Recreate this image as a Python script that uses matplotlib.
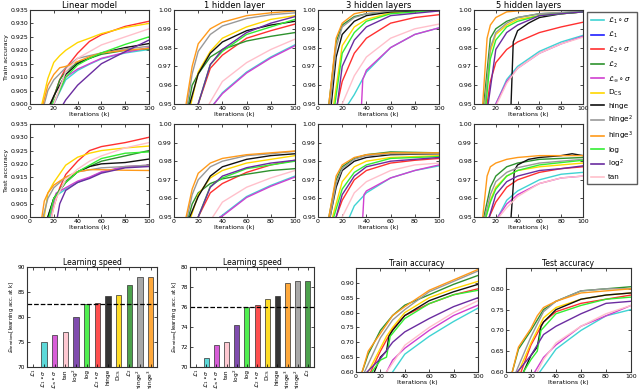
import matplotlib
matplotlib.use('Agg')
import matplotlib.pyplot as plt
from matplotlib.lines import Line2D

# series: key, legend label, colour
keys = ['L1s', 'L1', 'L2s', 'L2', 'Lis', 'DCS', 'hinge', 'hinge2', 'hinge3', 'log', 'log2', 'tan']
labels = [r'$\mathcal{L}_1\circ\sigma$', r'$\mathcal{L}_1$', r'$\mathcal{L}_2\circ\sigma$', r'$\mathcal{L}_2$',
          r'$\mathcal{L}_\infty\circ\sigma$', r'$\mathrm{D}_{\mathrm{CS}}$', 'hinge', r'hinge$^2$',
          r'hinge$^3$', 'log', r'log$^2$', 'tan']
colors = ['#3fd3d3', '#1f1fff', '#ff3030', '#2e922e', '#d040d0', '#ffd700', '#111111', '#999999',
          '#ff9a1a', '#33ee33', '#6a2ca0', '#ffc0cb']
col = dict(zip(keys, colors))
lab = dict(zip(keys, labels))

# accuracy curves, (iteration in k, accuracy)
lin_train = {
    'DCS': [(10, .900), (15, .9095), (20, .9155), (25, .918), (30, .920), (40, .9229), (50, .9245), (60, .9262), (80, .9285), (100, .930)],
    'L2s': [(17, .900), (20, .9026), (25, .909), (30, .9133), (40, .9189), (50, .9233), (60, .9258), (80, .9289), (100, .9308)],
    'hinge3': [(11, .900), (15, .907), (20, .911), (25, .9135), (30, .914), (40, .9158), (50, .9176), (60, .919), (80, .920), (100, .9207)],
    'tan': [(20, .900), (30, .912), (40, .917), (50, .9195), (60, .922), (80, .925), (100, .928)],
    'log': [(19, .900), (25, .905), (30, .910), (40, .9145), (50, .917), (60, .919), (80, .9222), (100, .925)],
    'hinge': [(17, .900), (20, .903), (30, .911), (40, .915), (50, .917), (60, .919), (80, .921), (100, .9225)],
    'hinge2': [(12, .900), (15, .905), (20, .909), (30, .9135), (40, .917), (50, .918), (60, .919), (80, .9205), (100, .9215)],
    'log2': [(28, .900), (30, .9015), (40, .907), (50, .911), (60, .915), (80, .9195), (100, .9238)],
    'L2': [(18, .900), (25, .909), (30, .912), (40, .9155), (60, .9185), (80, .920), (100, .9205)],
    'Lis': [(20, .900), (30, .910), (40, .913), (50, .915), (60, .917), (80, .9192), (100, .921)],
    'L1s': [(20, .900), (30, .909), (40, .9125), (50, .9148), (60, .9168), (80, .919), (100, .9203)],
}
lin_test = {
    'L2s': [(18, .900), (20, .904), (25, .911), (30, .916), (40, .921), (50, .925), (60, .9265), (80, .928), (100, .930)],
    'DCS': [(12, .900), (15, .909), (20, .913), (30, .9195), (40, .9225), (50, .924), (60, .925), (80, .926), (100, .9267)],
    'tan': [(18, .900), (22, .907), (30, .914), (40, .918), (50, .921), (60, .923), (80, .926), (100, .928)],
    'log': [(16, .900), (20, .907), (30, .913), (40, .917), (50, .9195), (60, .922), (80, .924), (100, .9245)],
    'L2': [(15, .900), (20, .907), (30, .9135), (40, .917), (60, .921), (80, .923), (100, .925)],
    'hinge': [(15, .900), (20, .907), (30, .913), (40, .917), (50, .919), (60, .920), (80, .9205), (100, .9218)],
    'hinge2': [(11, .900), (15, .907), (20, .911), (30, .915), (40, .917), (60, .9185), (80, .919), (100, .9195)],
    'hinge3': [(10, .900), (12, .906), (15, .909), (20, .912), (30, .915), (40, .917), (50, .9178), (60, .9178), (80, .9176), (100, .9175)],
    'log2': [(23, .900), (25, .905), (30, .910), (40, .913), (50, .9145), (60, .9165), (80, .9185), (100, .919)],
    'Lis': [(16, .900), (22, .909), (30, .911), (40, .9135), (50, .915), (60, .917), (80, .919), (100, .9195)],
    'L1s': [(17, .900), (22, .908), (30, .9105), (40, .913), (50, .9148), (60, .9168), (80, .9188), (100, .9192)],
}
hid1_train = {
    'hinge3': [(10, .95), (15, .970), (20, .982), (30, .990), (40, .9935), (60, .997), (80, .9985), (100, .9995)],
    'hinge2': [(11, .95), (15, .966), (20, .978), (30, .987), (40, .9915), (60, .9955), (80, .9975), (100, .9985)],
    'DCS': [(14, .95), (20, .967), (30, .978), (40, .985), (60, .991), (80, .995), (100, .997)],
    'hinge': [(13, .95), (20, .966), (30, .977), (40, .983), (60, .989), (80, .992), (100, .994)],
    'L2': [(12, .95), (15, .960), (20, .966), (30, .975), (40, .979), (60, .9835), (80, .986), (100, .988)],
    'log2': [(20, .95), (30, .971), (40, .979), (60, .988), (80, .993), (100, .9965)],
    'log': [(20, .95), (30, .971), (40, .978), (60, .987), (80, .991), (100, .995)],
    'L2s': [(20, .95), (30, .969), (40, .976), (60, .985), (80, .989), (100, .9925)],
    'tan': [(29, .95), (40, .962), (60, .972), (80, .979), (100, .9845)],
    'L1s': [(33, .95), (40, .956), (60, .967), (80, .975), (100, .9815)],
    'Lis': [(33, .95), (40, .9555), (60, .9665), (80, .9745), (100, .981)],
}
hid1_test = {
    'hinge3': [(10, .95), (15, .965), (20, .9735), (30, .979), (40, .9815), (60, .9835), (80, .9845), (100, .9855)],
    'hinge2': [(11, .95), (15, .962), (20, .970), (30, .977), (40, .980), (60, .983), (80, .984), (100, .9853)],
    'hinge': [(13, .95), (20, .961), (30, .972), (40, .977), (60, .981), (80, .983), (100, .984)],
    'DCS': [(14, .95), (20, .962), (30, .971), (40, .975), (60, .979), (80, .981), (100, .983)],
    'L2': [(12, .95), (15, .957), (20, .963), (30, .968), (40, .9705), (60, .973), (80, .975), (100, .976)],
    'log2': [(20, .95), (30, .966), (40, .972), (60, .9765), (80, .979), (100, .9805)],
    'log': [(20, .95), (30, .9665), (40, .971), (60, .976), (80, .978), (100, .980)],
    'L2s': [(20, .95), (30, .963), (40, .968), (60, .974), (80, .978), (100, .9805)],
    'tan': [(32, .95), (40, .958), (60, .966), (80, .971), (100, .975)],
    'L1s': [(38, .95), (40, .951), (60, .961), (80, .967), (100, .972)],
    'Lis': [(38, .95), (40, .9505), (60, .9605), (80, .9665), (100, .9715)],
}
hid3_train = {
    'hinge3': [(9, .95), (15, .985), (20, .993), (30, .998), (40, .9993), (60, 1.0), (100, 1.0)],
    'L2': [(9, .95), (15, .983), (20, .992), (30, .9965), (40, .998), (60, .999), (100, .9998)],
    'hinge2': [(10, .95), (15, .980), (20, .991), (30, .996), (40, .998), (60, .9995), (100, 1.0)],
    'hinge': [(11, .95), (15, .975), (20, .987), (30, .994), (40, .997), (60, .999), (100, .9998)],
    'DCS': [(13, .95), (20, .981), (30, .991), (40, .995), (60, .9985), (100, .9998)],
    'log': [(14, .95), (20, .977), (30, .988), (40, .994), (60, .998), (100, .9998)],
    'log2': [(16, .95), (20, .970), (30, .984), (40, .991), (60, .997), (100, .9995)],
    'L2s': [(16, .95), (20, .962), (30, .977), (40, .985), (60, .993), (80, .996), (100, .9975)],
    'tan': [(20, .95), (30, .965), (40, .975), (60, .985), (80, .990), (100, .9925)],
    'L1s': [(25, .95), (30, .955), (40, .967), (60, .980), (80, .987), (100, .9905)],
    'Lis': [(36, .95), (37, .963), (40, .968), (60, .980), (80, .987), (100, .9905)],
}
hid3_test = {
    'hinge3': [(9, .95), (15, .972), (20, .978), (30, .982), (40, .9835), (60, .9845), (100, .9845)],
    'L2': [(9, .95), (15, .970), (20, .977), (30, .9815), (40, .9835), (60, .985), (100, .9845)],
    'hinge2': [(10, .95), (15, .968), (20, .976), (30, .981), (40, .983), (60, .984), (100, .984)],
    'hinge': [(10, .95), (15, .966), (20, .975), (30, .980), (40, .982), (60, .9835), (100, .984)],
    'DCS': [(12, .95), (20, .969), (30, .977), (40, .980), (60, .982), (100, .983)],
    'log': [(13, .95), (20, .965), (30, .974), (40, .978), (60, .9815), (100, .9825)],
    'log2': [(15, .95), (20, .962), (30, .972), (40, .977), (60, .980), (100, .982)],
    'L2s': [(15, .95), (20, .959), (30, .970), (40, .975), (60, .979), (80, .9805), (100, .9815)],
    'tan': [(20, .95), (30, .963), (40, .969), (60, .975), (80, .978), (100, .979)],
    'L1s': [(26, .95), (30, .956), (40, .963), (60, .971), (80, .975), (100, .9775)],
    'Lis': [(37, .95), (38, .962), (40, .964), (60, .971), (80, .975), (100, .978)],
}
hid5_train = {
    'hinge3': [(8, .95), (12, .985), (15, .992), (20, .996), (30, .999), (40, .9995), (100, 1.0)],
    'L2': [(9, .95), (15, .985), (20, .990), (30, .994), (40, .996), (60, .998), (100, .999)],
    'hinge2': [(10, .95), (15, .980), (20, .988), (30, .993), (40, .996), (60, .998), (100, .9995)],
    'DCS': [(10, .95), (15, .978), (20, .987), (30, .992), (40, .995), (60, .997), (100, .999)],
    'log': [(11, .95), (15, .974), (20, .984), (30, .991), (40, .994), (60, .997), (100, .999)],
    'log2': [(13, .95), (20, .979), (30, .988), (40, .992), (60, .997), (100, .999)],
    'L2s': [(12, .95), (15, .962), (20, .972), (30, .979), (40, .983), (60, .988), (80, .991), (100, .9935)],
    'hinge': [(34, .95), (36, .983), (40, .989), (50, .993), (60, .996), (80, .998), (100, .999)],
    'L1s': [(20, .95), (30, .963), (40, .970), (60, .978), (80, .983), (100, .9865)],
    'Lis': [(20, .95), (30, .962), (40, .969), (60, .977), (80, .982), (100, .986)],
    'tan': [(21, .95), (30, .961), (40, .969), (60, .977), (80, .982), (100, .9855)],
}
hid5_test = {
    'hinge3': [(8, .95), (12, .972), (15, .977), (20, .979), (30, .981), (40, .982), (60, .983), (100, .983)],
    'L2': [(9, .95), (15, .966), (20, .972), (30, .977), (40, .979), (60, .981), (100, .982)],
    'hinge': [(34, .95), (37, .975), (40, .978), (50, .981), (60, .982), (80, .983), (90, .984), (100, .983)],
    'hinge2': [(10, .95), (15, .962), (20, .969), (30, .974), (40, .9765), (60, .979), (100, .981)],
    'log': [(11, .95), (15, .958), (20, .965), (30, .972), (40, .975), (60, .978), (100, .9805)],
    'DCS': [(11, .95), (15, .959), (20, .966), (30, .972), (40, .975), (60, .977), (100, .979)],
    'log2': [(14, .95), (20, .962), (30, .969), (40, .972), (60, .975), (80, .976), (100, .9775)],
    'L2s': [(14, .95), (20, .958), (30, .966), (40, .970), (60, .974), (80, .976), (100, .977)],
    'L1s': [(22, .95), (30, .959), (40, .964), (60, .970), (80, .973), (100, .974)],
    'Lis': [(22, .95), (30, .957), (40, .962), (60, .968), (80, .971), (100, .972)],
    'tan': [(23, .95), (30, .955), (40, .961), (60, .968), (80, .971), (100, .972)],
}
small_train = {
    'hinge3': [(5, .60), (10, .67), (20, .73), (25, .76), (30, .79), (40, .82), (60, .875), (80, .91), (100, .945)],
    'hinge2': [(7, .60), (20, .715), (30, .775), (40, .81), (60, .87), (80, .905), (100, .94)],
    'L2': [(5, .60), (10, .66), (20, .74), (30, .79), (40, .825), (60, .86), (80, .895), (100, .925)],
    'hinge': [(15, .60), (20, .65), (25, .67), (27, .72), (30, .74), (40, .79), (60, .84), (80, .87), (100, .895)],
    'DCS': [(10, .60), (20, .68), (25, .72), (30, .75), (40, .80), (60, .85), (80, .88), (100, .905)],
    'L2s': [(12, .60), (20, .67), (30, .745), (40, .79), (60, .83), (80, .86), (100, .88)],
    'log': [(13, .60), (20, .64), (25, .65), (28, .72), (40, .78), (60, .83), (80, .86), (100, .875)],
    'log2': [(9, .60), (20, .645), (30, .70), (40, .735), (60, .78), (80, .82), (100, .85)],
    'tan': [(25, .60), (30, .63), (40, .69), (60, .75), (80, .80), (100, .84)],
    'Lis': [(25, .60), (30, .64), (40, .68), (60, .74), (80, .79), (100, .825)],
    'L1s': [(30, .60), (40, .66), (60, .72), (80, .77), (100, .815)],
}
small_test = {
    'hinge3': [(5, .60), (10, .66), (20, .705), (25, .735), (30, .755), (40, .77), (60, .79), (80, .795), (100, .80)],
    'L2': [(5, .60), (10, .655), (20, .70), (30, .75), (40, .77), (60, .795), (80, .80), (100, .805)],
    'hinge2': [(8, .60), (20, .685), (30, .745), (40, .77), (60, .795), (80, .80), (100, .80)],
    'hinge': [(14, .60), (20, .64), (25, .66), (28, .71), (30, .72), (40, .75), (60, .775), (80, .785), (100, .79)],
    'DCS': [(10, .60), (20, .67), (30, .73), (40, .755), (60, .775), (80, .785), (100, .79)],
    'L2s': [(12, .60), (20, .665), (30, .72), (40, .745), (60, .765), (80, .775), (100, .785)],
    'log': [(14, .60), (20, .63), (25, .65), (28, .70), (40, .74), (60, .76), (80, .775), (100, .78)],
    'log2': [(9, .60), (20, .64), (30, .69), (40, .71), (60, .74), (80, .765), (100, .77)],
    'tan': [(25, .60), (30, .63), (40, .67), (60, .71), (80, .74), (100, .76)],
    'Lis': [(23, .60), (30, .635), (40, .665), (60, .71), (80, .735), (100, .76)],
    'L1s': [(27, .60), (40, .655), (60, .70), (80, .735), (100, .75)],
}

# learning speed bars
speed1_keys = ['L1', 'L1s', 'Lis', 'tan', 'log2', 'log', 'L2s', 'hinge', 'DCS', 'L2', 'hinge2', 'hinge3']
speed1_vals = [50.0, 75.1, 76.5, 77.1, 80.1, 82.7, 82.8, 84.2, 84.4, 86.5, 88.0, 88.1]
speed2_keys = ['L1', 'L1s', 'Lis', 'tan', 'log2', 'log', 'L2s', 'DCS', 'hinge', 'hinge3', 'hinge2', 'L2']
speed2_vals = [50.0, 70.9, 72.2, 72.5, 74.2, 76.0, 76.2, 76.8, 77.1, 78.4, 78.6, 78.6]

W, H = 640, 389
fig = plt.figure(figsize=(6.4, 3.89), dpi=100)


def box(l, t, r, b):
    return [l / W, 1 - b / H, (r - l) / W, (b - t) / H]


def style(ax, fs=4.5):
    ax.tick_params(direction='in', top=True, right=True, labelsize=fs, length=2.5, width=0.5, pad=1.5)
    for s in ax.spines.values():
        s.set_linewidth(0.8)
        s.set_color('#333333')


def curves(ax, data, ylim):
    for k in keys:
        if k in data:
            xs = [p[0] for p in data[k]]
            ys = [p[1] for p in data[k]]
            ax.plot(xs, ys, color=col[k], lw=1.0)
    ax.set_xlim(0, 100)
    ax.set_ylim(*ylim)
    ax.set_xticks([0, 20, 40, 60, 80, 100])
    ax.set_xlabel('Iterations (k)', fontsize=4.5, labelpad=0.5)
    style(ax)


cols = [(30, 149), (174, 295), (318, 439), (474, 583)]
titles = ['Linear model', '1 hidden layer', '3 hidden layers', '5 hidden layers']
tops = [lin_train, hid1_train, hid3_train, hid5_train]
bots = [lin_test, hid1_test, hid3_test, hid5_test]
for i, (l, r) in enumerate(cols):
    ylim = (0.900, 0.935) if i == 0 else (0.95, 1.00)
    yt = [0.900, 0.905, 0.910, 0.915, 0.920, 0.925, 0.930, 0.935] if i == 0 else [0.95, 0.96, 0.97, 0.98, 0.99, 1.00]
    fmt = '%.3f' if i == 0 else '%.2f'
    a1 = fig.add_axes(box(l, 10, r, 104))
    curves(a1, tops[i], ylim)
    a1.set_title(titles[i], fontsize=6, pad=1.5)
    a2 = fig.add_axes(box(l, 124, r, 217))
    curves(a2, bots[i], ylim)
    for a in (a1, a2):
        a.set_yticks(yt)
        a.set_yticklabels([fmt % v for v in yt])
    if i == 0:
        a1.set_ylabel('Train accuracy', fontsize=4.5, labelpad=1)
        a2.set_ylabel('Test accuracy', fontsize=4.5, labelpad=1)

handles = [Line2D([], [], color=c, lw=1.2) for c in colors]
fig.legend(handles, labels, loc='upper left', bbox_to_anchor=(587 / W, 1 - 12 / H), fontsize=5.2,
           frameon=True, fancybox=False, edgecolor='#333333', handlelength=1.8, labelspacing=0.62,
           borderpad=0.5, handletextpad=0.6, borderaxespad=0)


def bars(ax, bkeys, vals, ylim, yt, ref):
    xs = list(range(len(bkeys)))
    ax.bar(xs, vals, width=0.5, color=[col[k] for k in bkeys], alpha=0.85, edgecolor='#333333', linewidth=0.6)
    ax.axhline(vals[bkeys.index(ref)], color='black', ls='--', lw=0.9)
    ax.set_xlim(-0.6, len(bkeys) - 0.4)
    ax.set_ylim(*ylim)
    ax.set_yticks(yt)
    ax.set_xticks(xs)
    ax.set_xticklabels([lab[k] for k in bkeys], rotation=90, fontsize=3.8)
    ax.set_title('Learning speed', fontsize=5.5, pad=1.5)
    ax.set_ylabel(r'$\mathbb{E}_{\mathrm{iterations}}$[learning acc. at k]', fontsize=3.8, labelpad=1)
    style(ax, 4.2)


b1 = fig.add_axes(box(27, 267, 157, 367))
bars(b1, speed1_keys, speed1_vals, (70, 90), [70, 75, 80, 85, 90], 'log')
b2 = fig.add_axes(box(190, 267, 314, 367))
bars(b2, speed2_keys, speed2_vals, (70, 80), [70, 72, 74, 76, 78, 80], 'log')

c1 = fig.add_axes(box(356, 268, 478, 372))
curves(c1, small_train, (0.60, 0.95))
c1.set_yticks([0.60, 0.65, 0.70, 0.75, 0.80, 0.85, 0.90])
c1.set_title('Train accuracy', fontsize=5.5, pad=1.5)
c2 = fig.add_axes(box(506, 268, 631, 372))
curves(c2, small_test, (0.60, 0.85))
c2.set_yticks([0.60, 0.65, 0.70, 0.75, 0.80])
c2.set_title('Test accuracy', fontsize=5.5, pad=1.5)

fig.savefig('out.png', dpi=100)
